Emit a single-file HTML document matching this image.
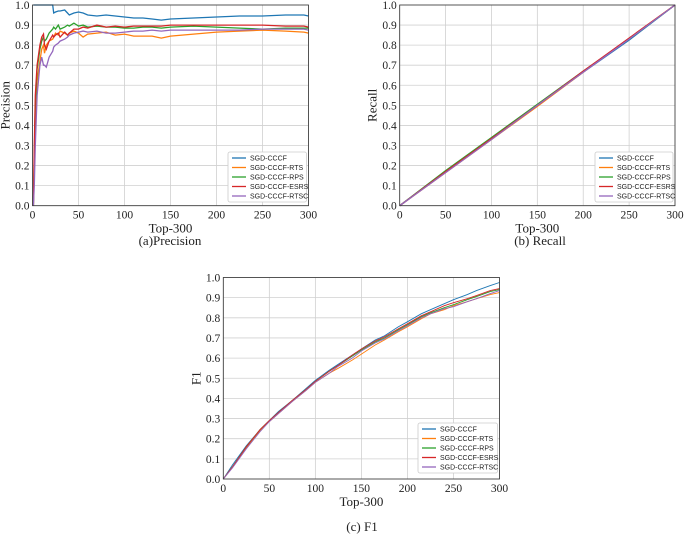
<!DOCTYPE html>
<html><head><meta charset="utf-8"><style>
body{margin:0;background:#fff;width:685px;height:535px;overflow:hidden}
svg{display:block}
text{font-family:"Liberation Serif",serif;fill:#222}
.lg{font-family:"Liberation Sans",sans-serif;font-size:7px}
</style></head><body>
<svg id="s" width="685" height="535"></svg>
<script>
const names=["SGD-CCCF","SGD-CCCF-RTS","SGD-CCCF-RPS","SGD-CCCF-ESRS","SGD-CCCF-RTSC"];
const colors=["#1f77b4","#ff7f0e","#2ca02c","#d62728","#9467bd"];
const xTicks=[0,50,100,150,200,250,300];
const yTicks=[0,0.1,0.2,0.3,0.4,0.5,0.6,0.7,0.8,0.9,1.0];
const pX=[1,2,3,5,8,10,12,13,15,18,22,23,25,28,30,35,38,40,45,50,55,60,70,80,90,100,110,120,130,140,150,175,200,225,250,275,295,300];
const precision=[
[1,1,1,1,1,1,1,1,1,1,1,0.96,0.965,0.97,0.97,0.975,0.96,0.95,0.96,0.965,0.96,0.95,0.945,0.95,0.945,0.94,0.935,0.935,0.93,0.925,0.93,0.935,0.94,0.945,0.945,0.95,0.95,0.945],
[0,0.2,0.45,0.62,0.72,0.78,0.8,0.76,0.8,0.82,0.83,0.84,0.86,0.85,0.87,0.86,0.85,0.86,0.87,0.86,0.84,0.855,0.86,0.865,0.85,0.855,0.845,0.845,0.845,0.835,0.845,0.855,0.865,0.87,0.875,0.87,0.865,0.86],
[0,0.25,0.5,0.68,0.78,0.82,0.84,0.82,0.83,0.86,0.88,0.89,0.88,0.9,0.88,0.89,0.9,0.895,0.91,0.895,0.9,0.89,0.895,0.89,0.89,0.885,0.885,0.89,0.89,0.885,0.89,0.895,0.89,0.885,0.88,0.885,0.885,0.885],
[0,0.3,0.55,0.7,0.8,0.84,0.855,0.8,0.78,0.82,0.85,0.84,0.85,0.86,0.84,0.865,0.85,0.86,0.88,0.88,0.89,0.885,0.9,0.89,0.895,0.89,0.895,0.895,0.895,0.895,0.9,0.9,0.9,0.9,0.9,0.895,0.895,0.89],
[0,0.1,0.3,0.55,0.7,0.74,0.7,0.7,0.69,0.74,0.77,0.79,0.8,0.81,0.82,0.83,0.84,0.85,0.86,0.865,0.87,0.865,0.87,0.86,0.86,0.865,0.87,0.87,0.875,0.87,0.875,0.875,0.875,0.875,0.88,0.88,0.88,0.875]];
const rX=[0,50,100,150,200,250,300];
const recall=[
[0,0.17,0.335,0.5,0.665,0.825,1.0],
[0,0.165,0.33,0.495,0.665,0.835,1.0],
[0,0.175,0.34,0.505,0.67,0.83,1.0],
[0,0.17,0.335,0.5,0.67,0.835,1.0],
[0,0.165,0.33,0.5,0.665,0.83,1.0]];
const fX=[0,10,25,40,50,60,75,90,100,115,125,140,150,165,175,190,200,215,225,240,250,265,275,290,300];
const f1=[
[0,0.07,0.165,0.245,0.29,0.335,0.39,0.45,0.49,0.54,0.57,0.615,0.645,0.69,0.71,0.755,0.78,0.82,0.84,0.87,0.89,0.915,0.935,0.96,0.975],
[0,0.06,0.155,0.24,0.285,0.325,0.385,0.44,0.48,0.525,0.55,0.59,0.62,0.665,0.69,0.73,0.755,0.795,0.82,0.84,0.86,0.88,0.895,0.915,0.925],
[0,0.06,0.16,0.245,0.29,0.33,0.39,0.445,0.485,0.535,0.565,0.61,0.64,0.68,0.7,0.74,0.765,0.805,0.825,0.85,0.865,0.89,0.905,0.93,0.94],
[0,0.06,0.16,0.245,0.29,0.33,0.39,0.445,0.485,0.535,0.565,0.615,0.645,0.685,0.705,0.745,0.77,0.81,0.83,0.86,0.875,0.895,0.91,0.935,0.945],
[0,0.055,0.15,0.235,0.285,0.325,0.385,0.44,0.48,0.525,0.56,0.6,0.635,0.675,0.695,0.735,0.76,0.8,0.82,0.845,0.855,0.88,0.895,0.92,0.935]];
const svg=document.getElementById('s');const NS='http://www.w3.org/2000/svg';
function mk(t,a,p){const e=document.createElementNS(NS,t);for(const k in a)e.setAttribute(k,a[k]);(p||svg).appendChild(e);return e;}
function chart(id,L,R,T,B,xs,data,ylab,caption,cx,cy,legX,legY,lw){
 const g=mk('g',{});
 
 
 const sx=v=>L+(R-L)*v/300, sy=v=>B-(B-T)*v;
 xTicks.forEach(t=>{const l=mk('line',{x1:sx(t),x2:sx(t),y1:T,y2:B,stroke:'#d0d0d0','stroke-width':0.8},g);
  
  const tx=mk('text',{x:sx(t),y:B+13,'font-size':11.5,'text-anchor':'middle'},g);tx.textContent=t;
  });
 yTicks.forEach(t=>{const l=mk('line',{x1:L,x2:R,y1:sy(t),y2:sy(t),stroke:'#d0d0d0','stroke-width':0.8},g);
  
  const tx=mk('text',{x:L-3,y:sy(t)+4,'font-size':11.5,'text-anchor':'end'},g);tx.textContent=t.toFixed(1);
  });
 data.forEach((s,i)=>{const pts=s.map((v,j)=>sx(xs[j]).toFixed(1)+','+sy(v).toFixed(1)).join(' ');
  const p=mk('polyline',{points:pts,fill:'none',stroke:colors[i],'stroke-width':lw},g);
  });
 const f=mk('rect',{x:L,y:T,width:R-L,height:B-T,fill:'none',stroke:'#333','stroke-width':0.8},g);
 
 const xl=mk('text',{x:(L+R)/2,y:B+27,'font-size':13,'text-anchor':'middle'},g);xl.textContent='Top-300';
 
 const yl=mk('text',{x:0,y:0,'font-size':13,'text-anchor':'middle',transform:`translate(${L-23},${(T+B)/2}) rotate(-90)`},g);yl.textContent=ylab;
 
 const lg=mk('g',{},g);
 mk('rect',{x:legX,y:legY,width:R-2-legX,height:50,fill:'#fff',stroke:'#ccc','stroke-width':0.8,rx:2},lg);
 names.forEach((n,i)=>{const y=legY+6+i*9.5;
  mk('line',{x1:legX+4,x2:legX+18,y1:y,y2:y,stroke:colors[i],'stroke-width':1.3},lg);
  const t=mk('text',{x:legX+22,y:y+2.5,class:'lg'},lg);t.textContent=n;
  });
 const c=mk('text',{x:cx,y:cy,'font-size':13,'text-anchor':'middle'},g);c.textContent=caption;
 
}
chart('precision',32.5,308.5,5,205.7,pX,precision,'Precision','(a)Precision',170,245,228,152,1.3);
chart('recall',399.7,675,5,205.7,rX,recall,'Recall','(b) Recall',540,245,595,152,1.3);
chart('f1',223.3,499.5,277.5,479,fX,f1,'F1','(c) F1',362,531,418,423,0.9);
</script></body></html>
